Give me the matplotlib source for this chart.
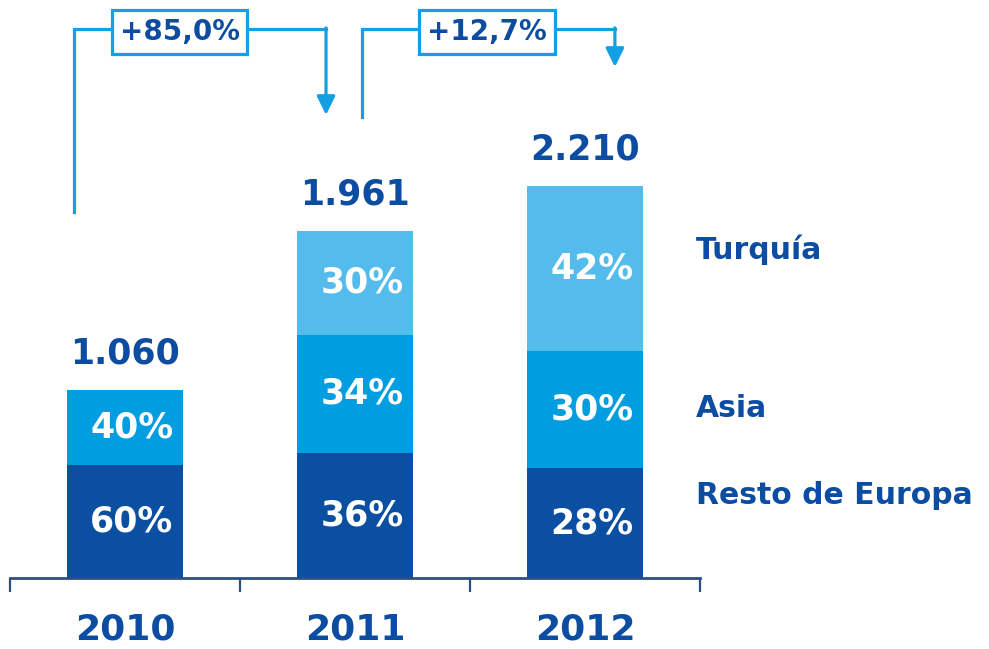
import numpy as np
import matplotlib
matplotlib.use("Agg")
import matplotlib.pyplot as plt

# data
years = ["2010", "2011", "2012"]
totals = [1060, 1961, 2210]
total_labels = ["1.060", "1.961", "2.210"]
regions = ["Resto de Europa", "Asia", "Turquía"]
pct_resto = [60, 36, 28]
pct_asia = [40, 34, 30]
pct_turquia = [0, 30, 42]
growth_labels = ["+85,0%", "+12,7%"]

dark = "#0b4fa2"
mid = "#009ee0"
light = "#54bced"
navy = "#0c4da2"
line_blue = "#13a0e3"

plt.rcParams['font.family'] = ['DejaVu Sans']
plt.rcParams['font.weight'] = 'bold'

fig = plt.figure(figsize=(9.89, 6.49), dpi=100)
ax = fig.add_axes([10/989, 71/649, 690/989, 578/649])

x = np.arange(len(years))
tot = np.array(totals, dtype=float)
segs = [np.array(p) / 100 * tot for p in (pct_resto, pct_asia, pct_turquia)]
pcts = [pct_resto, pct_asia, pct_turquia]
colors = [dark, mid, light]

bottom = np.zeros(len(years))
for seg, pc, col in zip(segs, pcts, colors):
    ax.bar(x, seg, 0.504, bottom=bottom, color=col, linewidth=0)
    for i in range(len(years)):
        if pc[i] > 0:
            ax.text(x[i] + 0.03, bottom[i] + seg[i] / 2, f"{pc[i]}%", color="white",
                    fontsize=25, fontweight="bold", ha="center", va="center")
    bottom = bottom + seg

for i in range(len(years)):
    ax.annotate(total_labels[i], xy=(x[i], tot[i]), xytext=(0, 14), textcoords="offset points",
                ha="center", va="bottom", color=navy, fontsize=25, fontweight="bold")
    ax.annotate(years[i], xy=(x[i], 0), xytext=(0, -44), textcoords="offset points",
                ha="center", va="baseline", color=navy, fontsize=26, fontweight="bold",
                annotation_clip=False)

ax.set_xlim(-0.5, 2.5)
ax.set_ylim(0, 3262)
for s in ["top", "right", "left"]:
    ax.spines[s].set_visible(False)
ax.spines["bottom"].set_color("#2d4f80")
ax.spines["bottom"].set_linewidth(2)
ax.set_yticks([])
ax.set_xticks([])
ax.set_xticks([-0.5, 0.5, 1.5, 2.5], minor=True)
ax.tick_params(axis="x", which="minor", direction="out", length=10, width=1.6, color="#2d4f80")

# legend labels at the right
legend_y = [468, 959, 1851]
for name, yy in zip(regions, legend_y):
    ax.text(2.483, yy, name, color=navy, fontsize=21.5, fontweight="bold",
            ha="left", va="center", clip_on=False)

# growth brackets: start x, start y, arrow x, arrow tip y, box centre x
brackets = [(-0.222, 2065, 0.874, 2613, 0.237), (1.030, 2602, 2.130, 2884, 1.574)]
y_top = 3098
for (x0, y0, x1, y1, xb), lab in zip(brackets, growth_labels):
    ax.plot([x0, x0, x1], [y0, y_top, y_top], color=line_blue, lw=2.3,
            clip_on=False, solid_joinstyle="miter")
    ax.annotate("", xy=(x1, y1), xytext=(x1, y_top + 7),
                arrowprops=dict(arrowstyle="-|>,head_length=0.75,head_width=0.37",
                                mutation_scale=15, color=line_blue, lw=2.3,
                                shrinkA=0, shrinkB=0), annotation_clip=False)
    ax.text(xb, 3081, lab, color=navy, fontsize=20, fontweight="bold", ha="center",
            va="center", clip_on=False,
            bbox=dict(boxstyle="square,pad=0.28", fc="white", ec=line_blue, lw=2.3))

fig.savefig("out.png", dpi=100)
